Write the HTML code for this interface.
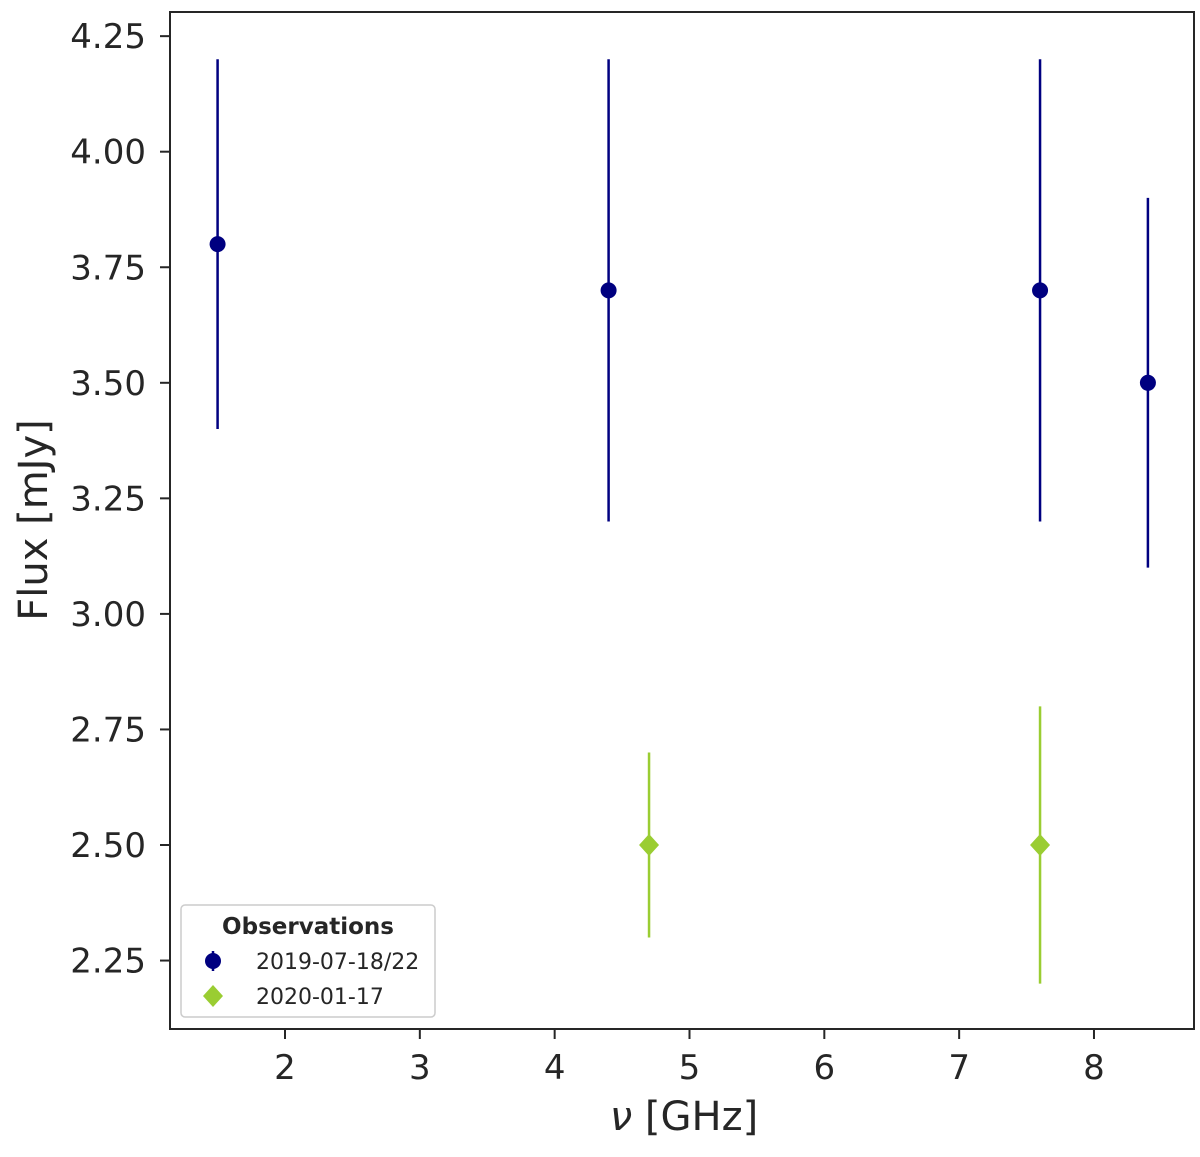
<!DOCTYPE html>
<html><head><meta charset="utf-8"><style>
body{margin:0;background:#fff;}
svg text{font-family:"DejaVu Sans","Liberation Sans",sans-serif;fill:#262626;}
</style></head><body>
<svg id="chart" width="1200" height="1152" xmlns="http://www.w3.org/2000/svg"></svg>
<script>
const xTicks=[2,3,4,5,6,7,8];
const yTicks=[2.25,2.50,2.75,3.00,3.25,3.50,3.75,4.00,4.25];
const s1Freq=[1.5,4.4,7.6,8.4];
const s1Flux=[3.8,3.7,3.7,3.5];
const s1Err=[0.4,0.5,0.5,0.4];
const s2Freq=[4.7,7.6];
const s2Flux=[2.5,2.5];
const s2Err=[0.2,0.3];
const L=170,R=1194,T=12,B=1029;
const X=v=>285+(v-2)*134.83;
const Y=v=>845-(v-2.5)*462.2;
const svg=document.getElementById('chart');
const NS='http://www.w3.org/2000/svg';
function mk(tag,attrs,parent){const e=document.createElementNS(NS,tag);for(const k in attrs)e.setAttribute(k,attrs[k]);(parent||svg).appendChild(e);return e;}
const frame=mk('rect',{x:L,y:T,width:R-L,height:B-T,fill:'none',stroke:'#262626','stroke-width':2});


xTicks.forEach(v=>{
  const l=mk('line',{x1:X(v),x2:X(v),y1:B,y2:B+10,stroke:'#262626','stroke-width':2});
  
  
  const t=mk('text',{x:X(v),y:B+50,'text-anchor':'middle','font-size':34});
  t.textContent=v;
  
  
});
yTicks.forEach(v=>{
  const l=mk('line',{x1:L-10,x2:L,y1:Y(v),y2:Y(v),stroke:'#262626','stroke-width':2});
  
  
  const t=mk('text',{x:L-24,y:Y(v)+12,'text-anchor':'end','font-size':34});
  t.textContent=v.toFixed(2);
  
  
});
const xl=mk('text',{x:684,y:1130,'text-anchor':'middle','font-size':40});
xl.innerHTML='<tspan font-style="italic">ν</tspan> [GHz]';


const yl=mk('text',{x:47,y:520,'text-anchor':'middle','font-size':40,transform:'rotate(-90 47 520)'});
yl.textContent='Flux [mJy]';


s1Freq.forEach((f,i)=>{
  const e=mk('line',{x1:X(f),x2:X(f),y1:Y(s1Flux[i]-s1Err[i]),y2:Y(s1Flux[i]+s1Err[i]),stroke:'#000080','stroke-width':2.5});
  
  
  const c=mk('circle',{cx:X(f),cy:Y(s1Flux[i]),r:8,fill:'#000080'});
  
  
});
s2Freq.forEach((f,i)=>{
  const e=mk('line',{x1:X(f),x2:X(f),y1:Y(s2Flux[i]-s2Err[i]),y2:Y(s2Flux[i]+s2Err[i]),stroke:'#9acd32','stroke-width':2.5});
  
  
  const cx=X(f),cy=Y(s2Flux[i]);
  const p=mk('polygon',{points:`${cx},${cy-11} ${cx+10},${cy} ${cx},${cy+11} ${cx-10},${cy}`,fill:'#9acd32'});
  
  
});
const lg=mk('g',{});


mk('rect',{x:181,y:905,width:254,height:112,rx:4,fill:'#fff','fill-opacity':0.8,stroke:'#ccc','stroke-width':1.5},lg);
const lt=mk('text',{x:308,y:934,'text-anchor':'middle','font-size':23,'font-weight':'bold'},lg);
lt.textContent='Observations';
mk('line',{x1:213,x2:213,y1:951,y2:971,stroke:'#000080','stroke-width':2.5},lg);
mk('circle',{cx:213,cy:961,r:8,fill:'#000080'},lg);
const t1=mk('text',{x:256,y:969,'font-size':22},lg);t1.textContent='2019-07-18/22';


mk('polygon',{points:'213,985 223,996 213,1007 203,996',fill:'#9acd32'},lg);
const t2=mk('text',{x:256,y:1004,'font-size':22},lg);t2.textContent='2020-01-17';


</script>
</body></html>
